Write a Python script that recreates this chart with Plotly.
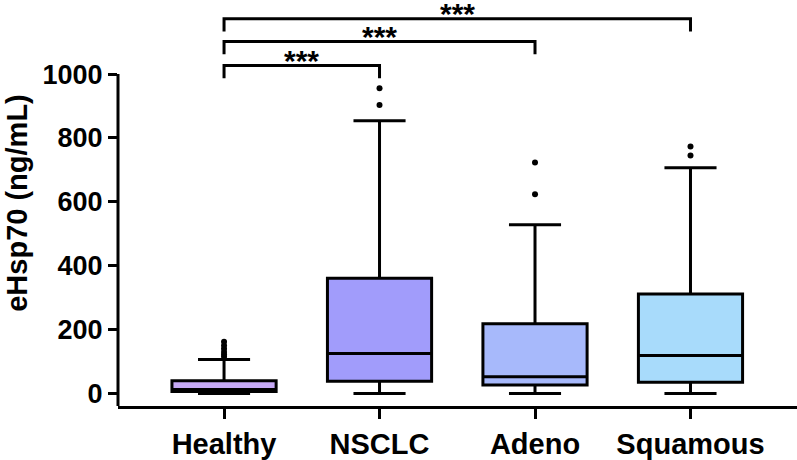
import plotly.graph_objects as go

categories = ["Healthy", "NSCLC", "Adeno", "Squamous"]
q1 = [6, 38, 26, 35]
median = [12, 125, 52, 119]
q3 = [40, 361, 218, 311]
lower_fence = [0, 0, 0, 0]
upper_fence = [106, 854, 528, 707]
outliers = [
    [115, 122, 130, 140, 150, 162],
    [903, 956],
    [624, 723],
    [745, 773],
]
fill_colors = ["#C6A9F5", "#A19CFB", "#A7B9FB", "#A8DBFB"]

# significance brackets: (left index, right index, y level, label)
brackets = [(0, 1, 1027, "***"), (0, 2, 1102, "***"), (0, 3, 1173, "***")]
bracket_leg = 40

fig = go.Figure()
for i, cat in enumerate(categories):
    fig.add_trace(go.Box(
        x=[i], q1=[q1[i]], median=[median[i]], q3=[q3[i]],
        lowerfence=[lower_fence[i]], upperfence=[upper_fence[i]],
        boxpoints=False, width=0.67, whiskerwidth=0.5,
        fillcolor=fill_colors[i], line=dict(color="black", width=3),
        name=cat, showlegend=False, hoverinfo="skip",
    ))
    fig.add_trace(go.Scatter(
        x=[i] * len(outliers[i]), y=outliers[i], mode="markers",
        marker=dict(color="black", size=6), showlegend=False, hoverinfo="skip",
    ))

shapes = []
annotations = []
star_shift = [-14, -13, -13]
for k, (a, b, yv, lab) in enumerate(brackets):
    shapes.append(dict(type="path", xref="x", yref="y",
                       path=f"M {a},{yv - bracket_leg} L {a},{yv} L {b},{yv} L {b},{yv - bracket_leg}",
                       line=dict(color="black", width=3)))
    annotations.append(dict(x=(a + b) / 2, y=yv, xref="x", yref="y",
                            text=lab, showarrow=False, yanchor="bottom", yshift=star_shift[k],
                            font=dict(family="Liberation Sans", size=30, color="black", weight="bold")))

# y axis line from x-axis up to 1000
shapes.append(dict(type="line", xref="paper", yref="y", x0=0, x1=0, y0=-39.4, y1=1000,
                   line=dict(color="black", width=3)))

fig.update_layout(
    width=797, height=460,
    margin=dict(l=118, r=0, t=0, b=50),
    plot_bgcolor="white", paper_bgcolor="white",
    shapes=shapes, annotations=annotations,
    font=dict(family="Liberation Sans", color="black"),
    xaxis=dict(range=[-0.682, 3.685], tickvals=list(range(4)), ticktext=categories,
               showline=True, linecolor="black", linewidth=3, ticks="outside",
               ticklen=10, tickwidth=3, tickcolor="black", showgrid=False, zeroline=False,
               tickfont=dict(size=29, weight="bold", family="Liberation Sans")),
    yaxis=dict(range=[-39.4, 1232], tickvals=[0, 200, 400, 600, 800, 1000],
               showline=False, ticks="outside", ticklen=9, tickwidth=3, tickcolor="black",
               showgrid=False, zeroline=False,
               tickfont=dict(size=27, weight="bold", family="Liberation Sans"),
               title=dict(text="eHsp70 (ng/mL)", standoff=6,
                          font=dict(size=29, weight="bold", family="Liberation Sans"))),
)

fig.write_html("out.html", config={"displayModeBar": False},
               post_script="document.body.style.margin='0';")
